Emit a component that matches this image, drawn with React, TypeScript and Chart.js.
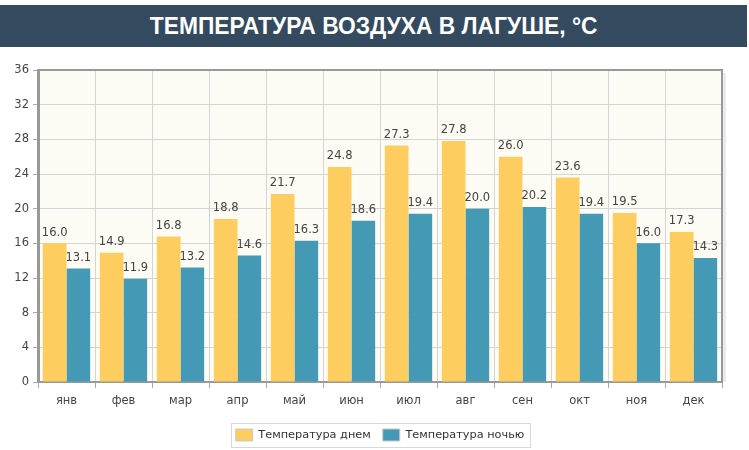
import React, { useEffect, useRef } from "react";
import { Chart, registerables } from "chart.js";

Chart.register(...registerables);

const TITLE = "ТЕМПЕРАТУРА ВОЗДУХА В ЛАГУШЕ, °C";
const months = ["янв", "фев", "мар", "апр", "май", "июн", "июл", "авг", "сен", "окт", "ноя", "дек"];
const dayTemps = [16.0, 14.9, 16.8, 18.8, 21.7, 24.8, 27.3, 27.8, 26.0, 23.6, 19.5, 17.3];
const nightTemps = [13.1, 11.9, 13.2, 14.6, 16.3, 18.6, 19.4, 20.0, 20.2, 19.4, 16.0, 14.3];
const seriesNames = ["Температура днем", "Температура ночью"];

const FONT = "'DejaVu Sans', Verdana, sans-serif";

const plotDecor = {
  id: "plotDecor",
  afterLayout(chart: any) {
    const lg = chart.legend;
    if (lg) {
      lg.left += 19;
      lg.right += 19;
      lg.top += 1;
      lg.bottom += 1;
    }
  },
  beforeDraw(chart: any) {
    const { ctx, chartArea: a } = chart;
    ctx.save();
    ctx.fillStyle = "#fdfcf4";
    ctx.fillRect(a.left, a.top, a.right - a.left, a.bottom - a.top);
    ctx.restore();
  },
  afterDraw(chart: any) {
    const { ctx, chartArea: a } = chart;
    ctx.save();
    ctx.fillStyle = "rgba(0,0,0,0.08)";
    ctx.fillRect(a.right + 1, a.top + 3, 3, a.bottom - a.top - 3);
    ctx.strokeStyle = "#999";
    ctx.lineWidth = 2;
    ctx.beginPath();
    ctx.moveTo(a.left, a.top);
    ctx.lineTo(a.right, a.top);
    ctx.lineTo(a.right, a.bottom);
    ctx.stroke();
    ctx.fillStyle = "#444";
    ctx.font = "11.5px " + FONT;
    ctx.textAlign = "center";
    ctx.textBaseline = "bottom";
    chart.data.datasets.forEach((ds: any, i: number) => {
      const meta = chart.getDatasetMeta(i);
      meta.data.forEach((bar: any, j: number) => {
        ctx.fillText(ds.data[j].toFixed(1), bar.x, bar.y - 5);
      });
    });
    const lg = chart.legend;
    if (lg && lg.legendHitBoxes && lg.legendHitBoxes.length) {
      const hb = lg.legendHitBoxes;
      let l = Infinity, r = -Infinity, t = Infinity, b = -Infinity;
      hb.forEach((h: any) => {
        l = Math.min(l, h.left);
        r = Math.max(r, h.left + h.width);
        t = Math.min(t, h.top);
        b = Math.max(b, h.top + h.height);
      });
      ctx.strokeStyle = "#d8d8d8";
      ctx.lineWidth = 1;
      ctx.strokeRect(Math.round(l - 5) + 0.5, Math.round(t - 6) + 0.5, Math.round(r - l + 10), Math.round(b - t + 12));
    }
    ctx.restore();
  },
};

export default function App() {
  const ref = useRef<HTMLCanvasElement>(null);
  useEffect(() => {
    document.body.style.margin = "0";
    const chart = new Chart(ref.current!, {
      type: "bar",
      data: {
        labels: months,
        datasets: [
          { label: seriesNames[0], data: dayTemps, backgroundColor: "#fecd5f", borderWidth: 0 },
          { label: seriesNames[1], data: nightTemps, backgroundColor: "#4499b5", borderWidth: 0 },
        ],
      },
      options: {
        responsive: false,
        animation: false,
        layout: { padding: { top: 20, right: 27, left: 0, bottom: 0 } },
        datasets: { bar: { categoryPercentage: 0.83, barPercentage: 1 } },
        scales: {
          x: {
            grid: { color: "#d4d4d4", tickLength: 6, tickColor: "#aaa", offset: true },
            border: { color: "#999", width: 2 },
            ticks: { color: "#444", font: { family: FONT, size: 11.5 }, padding: 6 },
            afterFit(s: any) { s.height = 34; },
          },
          y: {
            min: 0,
            max: 36,
            ticks: { stepSize: 4, color: "#444", font: { family: FONT, size: 11.5 }, padding: 4 },
            grid: { color: "#d4d4d4", tickLength: 5, tickColor: "#aaa" },
            border: { color: "#999", width: 3 },
            afterFit(s: any) { s.width = 38; },
          },
        },
        plugins: {
          legend: {
            position: "bottom",
            labels: {
              boxWidth: 17,
              boxHeight: 12,
              color: "#333",
              font: { family: FONT, size: 11.3 },
              padding: 12,
              generateLabels(chart: any) {
                const items = Chart.defaults.plugins.legend.labels.generateLabels(chart);
                items.forEach((it: any) => {
                  it.lineWidth = 1;
                  it.strokeStyle = "#c8c8c8";
                });
                return items;
              },
            },
          },
          tooltip: { enabled: false },
        },
      },
      plugins: [plotDecor],
    });
    return () => chart.destroy();
  }, []);

  return (
    <div style={{ position: "relative", width: 749, height: 450, background: "#fff", overflow: "hidden" }}>
      <div
        style={{
          position: "absolute",
          left: 0,
          top: 5,
          width: 747,
          height: 42,
          background: "#344a5f",
          color: "#fff",
          display: "flex",
          alignItems: "center",
          justifyContent: "center",
        }}
      >
        <span
          style={{
            fontFamily: "'Liberation Sans', Arial, sans-serif",
            fontWeight: "bold",
            fontSize: 24,
            whiteSpace: "nowrap",
            display: "inline-block",
            transform: "scaleX(0.95)",
          }}
        >
          {TITLE}
        </span>
      </div>
      <canvas ref={ref} width={749} height={400} style={{ position: "absolute", left: 0, top: 50 }} />
    </div>
  );
}
